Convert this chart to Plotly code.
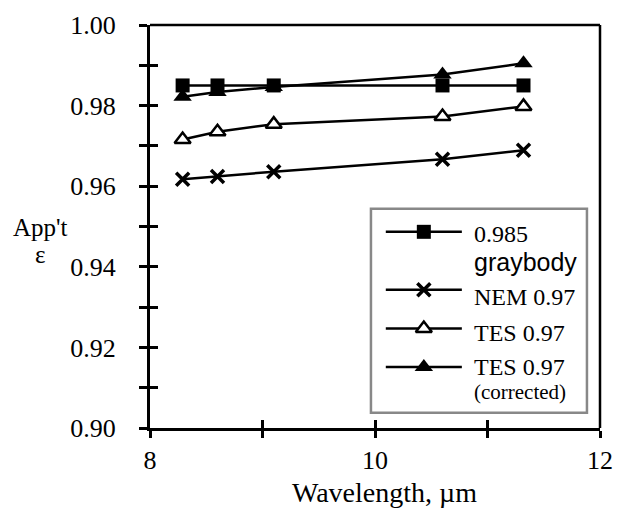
import plotly.graph_objects as go

# ---- data ----
wavelength = [8.29, 8.6, 9.1, 10.6, 11.32]
graybody = [0.985, 0.985, 0.985, 0.985, 0.985]
nem = [0.9617, 0.9624, 0.9636, 0.9667, 0.9689]
tes = [0.9716, 0.9735, 0.9754, 0.9773, 0.9798]
tes_corr = [0.9822, 0.9834, 0.9846, 0.9877, 0.9905]

series_names = ["0.985 graybody", "NEM 0.97", "TES 0.97", "TES 0.97 (corrected)"]

y_tickvals = [0.90, 0.91, 0.92, 0.93, 0.94, 0.95, 0.96, 0.97, 0.98, 0.99, 1.00]
y_ticktext = ["0.90", "", "0.92", "", "0.94", "", "0.96", "", "0.98", "", "1.00"]
x_tickvals = [8, 9, 10, 11, 12]
x_ticktext = ["8", "", "10", "", "12"]

SERIF = "Liberation Serif, Times New Roman, serif"
SANS = "Liberation Sans, Arial, sans-serif"
BLACK = "#000000"

styles = [
    dict(symbol="square", size=14, color=BLACK, line=dict(width=0)),
    dict(symbol="x-thin", size=13, color=BLACK, line=dict(width=3.5, color=BLACK)),
    dict(symbol="triangle-up", size=14, color="white", line=dict(width=2.5, color=BLACK)),
    dict(symbol="triangle-up", size=16, color=BLACK, line=dict(width=0)),
]
series = [graybody, nem, tes, tes_corr]

fig = go.Figure()

for name, vals, st in zip(series_names, series, styles):
    fig.add_trace(go.Scatter(
        x=wavelength, y=vals, mode="lines+markers", name=name,
        line=dict(color=BLACK, width=2.5),
        marker=st, showlegend=False, cliponaxis=False,
    ))

# invisible trace to create the overlay axes for "inside" tick halves
fig.add_trace(go.Scatter(x=[None], y=[None], xaxis="x2", yaxis="y2",
                         showlegend=False, hoverinfo="skip"))

# ---- custom legend (drawn on an overlay axis in plot-fraction units) ----
leg_x0, leg_x1 = 0.524, 0.693
leg_rows = [0.4868, 0.3429, 0.2470, 0.1511]
for row_y, st in zip(leg_rows, styles):
    fig.add_trace(go.Scatter(
        x=[leg_x0, leg_x1], y=[row_y, row_y], mode="lines",
        line=dict(color=BLACK, width=2.5), xaxis="x3", yaxis="y3",
        showlegend=False, hoverinfo="skip", cliponaxis=False))
    fig.add_trace(go.Scatter(
        x=[(leg_x0 + leg_x1) / 2], y=[row_y], mode="markers",
        marker=st, xaxis="x3", yaxis="y3",
        showlegend=False, hoverinfo="skip", cliponaxis=False))

text_x = 0.716
legend_texts = [
    ("0.985", 0.4820, SERIF, 24),
    ("graybody", 0.4125, SANS, 25),
    ("NEM 0.97", 0.3261, SERIF, 24),
    ("TES 0.97", 0.2350, SERIF, 24),
    ("TES 0.97", 0.1511, SERIF, 24),
    ("(corrected)", 0.0887, SERIF, 21),
]
annotations = []
for t, yy, fam, sz in legend_texts:
    annotations.append(dict(text=t, x=text_x, y=yy, xref="paper", yref="paper",
                            xanchor="left", yanchor="middle", showarrow=False,
                            font=dict(family=fam, size=sz, color=BLACK)))

annotations += [
    dict(text="App't", x=-0.244, y=0.497, xref="paper", yref="paper",
         xanchor="center", yanchor="middle", showarrow=False,
         font=dict(family=SERIF, size=25, color=BLACK)),
    dict(text="ε", x=-0.244, y=0.430, xref="paper", yref="paper",
         xanchor="center", yanchor="middle", showarrow=False,
         font=dict(family=SERIF, size=25, color=BLACK)),
    dict(text="Wavelength, µm", x=0.522, y=-0.161, xref="paper", yref="paper",
         xanchor="center", yanchor="middle", showarrow=False,
         font=dict(family=SERIF, size=28, color=BLACK)),
]

shapes = [
    dict(type="rect", xref="paper", yref="paper", x0=0.491, x1=0.971, y0=0.038, y1=0.544,
         line=dict(color="#888888", width=2.5), fillcolor="white", layer="below"),
    dict(type="line", xref="paper", yref="paper", x0=0, x1=1, y0=1, y1=1,
         line=dict(color=BLACK, width=2.5)),
    dict(type="line", xref="paper", yref="paper", x0=1, x1=1, y0=0, y1=1,
         line=dict(color=BLACK, width=2.5)),
]

tickfont = dict(family=SERIF, size=26, color=BLACK)

fig.update_layout(
    width=624, height=520,
    margin=dict(l=150, r=24, t=11, b=92),
    paper_bgcolor="white", plot_bgcolor="white",
    showlegend=False,
    xaxis=dict(range=[8, 12], tickvals=x_tickvals, ticktext=x_ticktext,
               ticks="outside", ticklen=7, tickwidth=2.5, tickcolor=BLACK,
               showline=True, linewidth=3, linecolor=BLACK, showgrid=False,
               zeroline=False, tickfont=tickfont, ticklabelstandoff=0,
               ticklabeloverflow="allow"),
    yaxis=dict(range=[0.90, 1.00], tickvals=y_tickvals, ticktext=y_ticktext,
               ticks="outside", ticklen=8, tickwidth=2.5, tickcolor=BLACK,
               showline=True, linewidth=3, linecolor=BLACK, showgrid=False,
               zeroline=False, tickfont=tickfont, ticklabelstandoff=18,
               ticklabeloverflow="allow"),
    xaxis2=dict(overlaying="x", anchor="y2", range=[8, 12], tickvals=x_tickvals,
                ticks="inside", ticklen=8, tickwidth=2.5, tickcolor=BLACK,
                showticklabels=False, showline=False, showgrid=False, zeroline=False),
    yaxis2=dict(overlaying="y", anchor="x2", range=[0.90, 1.00], tickvals=y_tickvals,
                ticks="inside", ticklen=8, tickwidth=2.5, tickcolor=BLACK,
                showticklabels=False, showline=False, showgrid=False, zeroline=False),
    xaxis3=dict(overlaying="x", anchor="y3", range=[0, 1], visible=False),
    yaxis3=dict(overlaying="y", anchor="x3", range=[0, 1], visible=False),
    annotations=annotations,
    shapes=shapes,
)

fig.write_html("out.html", config={"displayModeBar": False},
               post_script="document.body.style.margin='0';")
